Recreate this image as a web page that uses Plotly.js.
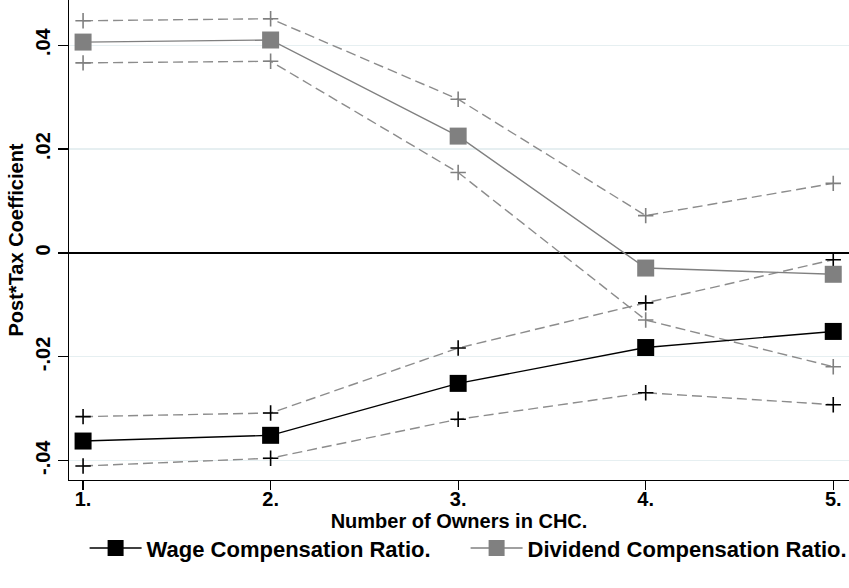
<!DOCTYPE html>
<html>
<head>
<meta charset="utf-8">
<script src="https://cdn.plot.ly/plotly-3.0.1.min.js"></script>
<style>
  html, body { margin: 0; padding: 0; background: #ffffff; }
  #chart { width: 849px; height: 588px; }
</style>
</head>
<body>
<div id="chart"></div>
<script>
// Number of owners in CHC
const owners = [1, 2, 3, 4, 5];
const ownerTickText = ["1.", "2.", "3.", "4.", "5."];

// Wage Compensation Ratio: point estimate and 95% CI bounds
const wageCoef  = [-0.0362, -0.0351, -0.0251, -0.0182, -0.0151];
const wageUpper = [-0.0315, -0.0308, -0.0183, -0.0096, -0.0013];
const wageLower = [-0.0410, -0.0395, -0.0320, -0.0269, -0.0292];

// Dividend Compensation Ratio: point estimate and 95% CI bounds
const divCoef  = [0.0406, 0.0410, 0.0225, -0.0029, -0.0041];
const divUpper = [0.0447, 0.0451, 0.0296, 0.0072, 0.0134];
const divLower = [0.0366, 0.0369, 0.0155, -0.0129, -0.0219];

// Y-axis ticks
const yTickVals = [-0.04, -0.02, 0, 0.02, 0.04];
const yTickText = ["-.04", "-.02", "0", ".02", ".04"];

const FONT = "'Liberation Sans', Arial, Helvetica, sans-serif";
const FS = 20;
const TXT = { family: FONT, size: FS, color: "#000000", weight: "bold" };
const LEG = { family: FONT, size: 22, color: "#000000", weight: "bold" };
const GRAY = "#808080";
const CI_GRAY = "#8c8c8c";

function ciTrace(y, markerColor) {
  return {
    x: owners, y: y, type: "scatter", mode: "lines+markers",
    showlegend: false, hoverinfo: "skip",
    line: { color: CI_GRAY, width: 1.4, dash: "10px,5px" },
    marker: { symbol: "cross-thin-open", size: 11, color: markerColor,
              line: { color: markerColor, width: 1.6 } }
  };
}

const traces = [
  ciTrace(divUpper, GRAY),
  ciTrace(divLower, GRAY),
  ciTrace(wageUpper, "#000000"),
  ciTrace(wageLower, "#000000"),
  {
    x: owners, y: divCoef, type: "scatter", mode: "lines+markers",
    name: "Dividend Compensation Ratio.",
    line: { color: GRAY, width: 1.4 },
    marker: { symbol: "square", size: 17, color: GRAY }
  },
  {
    x: owners, y: wageCoef, type: "scatter", mode: "lines+markers",
    name: "Wage Compensation Ratio.",
    line: { color: "#000000", width: 1.4 },
    marker: { symbol: "square", size: 17, color: "#000000" }
  }
];

const layout = {
  width: 849, height: 588,
  margin: { l: 69, r: 0, t: 0, b: 108 },
  paper_bgcolor: "#ffffff", plot_bgcolor: "#ffffff",
  font: TXT,
  showlegend: true,
  legend: {
    orientation: "h", traceorder: "reversed",
    x: 0.02, xanchor: "left", y: -0.142, yanchor: "middle",
    itemwidth: 52,
    entrywidth: 314, entrywidthmode: "pixels",
    font: LEG,
    bgcolor: "rgba(0,0,0,0)"
  },
  xaxis: {
    range: [0.925, 5.084],
    tickmode: "array", tickvals: owners, ticktext: ownerTickText,
    ticks: "outside", ticklen: 9, tickwidth: 1.2, tickcolor: "#000000",
    ticklabelstandoff: -8,
    showline: true, linecolor: "#000000", linewidth: 1.3,
    showgrid: false, zeroline: false,
    tickfont: TXT,
    title: { text: "Number of Owners in CHC.", standoff: 0, font: TXT }
  },
  yaxis: {
    range: [-0.0437, 0.0487],
    tickmode: "array", tickvals: yTickVals, ticktext: yTickText,
    tickangle: -90,
    ticks: "outside", ticklen: 10, tickwidth: 1.2, tickcolor: "#000000",
    showline: true, linecolor: "#000000", linewidth: 1.3,
    showgrid: true, gridcolor: "#e6eff1", gridwidth: 1.2,
    zeroline: true, zerolinecolor: "#000000", zerolinewidth: 1.3,
    tickfont: TXT,
    title: { text: "Post*Tax Coefficient", standoff: 2, font: TXT }
  }
};

Plotly.newPlot("chart", traces, layout, { displayModeBar: false, staticPlot: true });
</script>
</body>
</html>
